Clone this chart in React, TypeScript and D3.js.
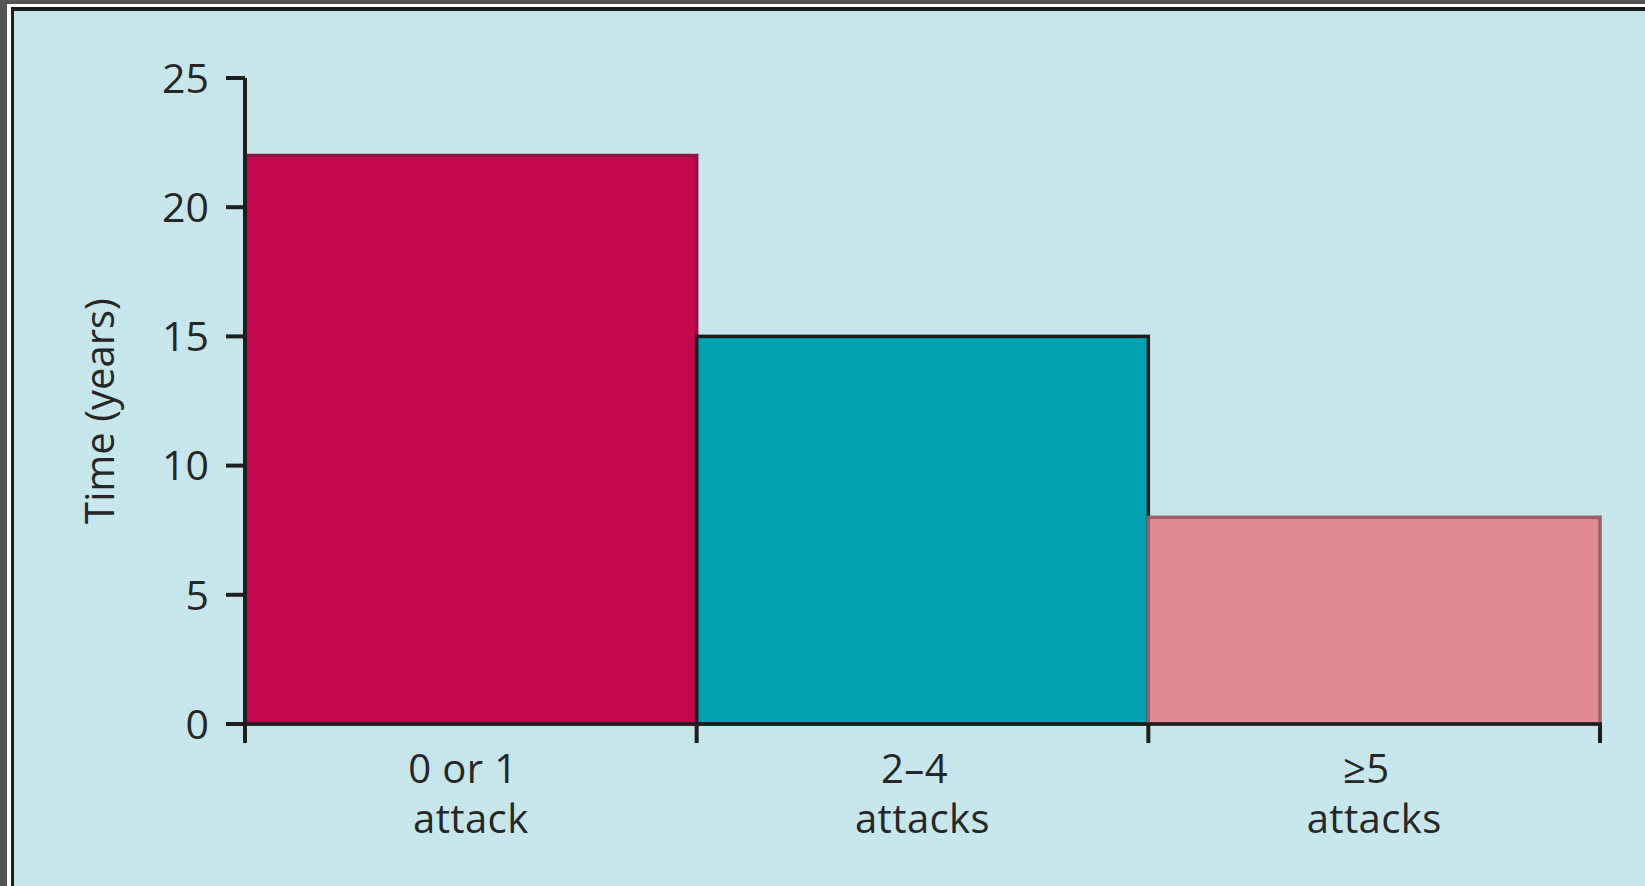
import React from "react";
import * as d3 from "d3";

const categories = ["0 or 1|attack", "2\u20134|attacks", "\u22655|attacks"];
const values = [22, 15, 8];
const yTicks = [0, 5, 10, 15, 20, 25];
const fills = ["#c5074e", "#00a1b0", "#e08991"];
const strokes = ["#931242", "#1c1c1c", "#9a5f66"];

const W = 1645;
const H = 886;

export default function App() {
  const x = d3.scaleBand<string>().domain(categories).range([245, 1600]).padding(0);
  const y = d3.scaleLinear().domain([0, 25]).range([724, 78]);
  const font = "'Open Sans', 'Liberation Sans', sans-serif";
  const text = "#262626";
  return (
    <svg
      width={W}
      height={H}
      style={{ position: "absolute", left: 0, top: 0, display: "block" }}
    >
      <rect x={0} y={0} width={W} height={H} fill="#555" />
      <rect x={7} y={4} width={W} height={H} fill="#ffffff" />
      <rect x={11} y={7} width={W} height={H} fill="#1e1e1e" />
      <rect x={14} y={11} width={W} height={H} fill="#c7e6eb" />

      {categories.map((c, i) => {
        const x0 = x(c)!;
        const w = x.bandwidth();
        return (
          <rect
            key={c}
            x={x0}
            y={y(values[i])}
            width={w}
            height={y(0) - y(values[i])}
            fill={fills[i]}
            stroke={strokes[i]}
            strokeWidth={3.5}
          />
        );
      })}

      {/* y axis */}
      <line x1={245} x2={245} y1={y(25)} y2={743} stroke="#1e1e1e" strokeWidth={4} />
      {yTicks.map((t) => (
        <g key={t}>
          <line x1={226} x2={245} y1={y(t)} y2={y(t)} stroke="#1e1e1e" strokeWidth={4} />
          <text
            x={209}
            y={y(t)}
            dy="0.36em"
            textAnchor="end"
            fontFamily={font}
            fontSize={41}
            fill={text}
          >
            {t}
          </text>
        </g>
      ))}

      {/* x axis */}
      <line x1={243} x2={1602} y1={y(0)} y2={y(0)} stroke="#1e1e1e" strokeWidth={3.5} />
      {categories.map((c) => (
        <line
          key={c + "t"}
          x1={x(c)! + x.bandwidth()}
          x2={x(c)! + x.bandwidth()}
          y1={y(0)}
          y2={743}
          stroke="#1e1e1e"
          strokeWidth={4}
        />
      ))}
      {categories.map((c) => {
        const [l1, l2] = c.split("|");
        const cx = x(c)! + x.bandwidth() / 2;
        return (
          <g key={c + "l"} fontFamily={font} fontSize={40} fill={text} textAnchor="middle" letterSpacing={0.4}>
            <text x={cx - 8} y={783}>{l1}</text>
            <text x={cx} y={833}>{l2}</text>
          </g>
        );
      })}

      <text
        transform="translate(114,411) rotate(-90)"
        textAnchor="middle"
        fontFamily={font}
        fontSize={40}
        fill={text}
      >
        Time (years)
      </text>
    </svg>
  );
}
